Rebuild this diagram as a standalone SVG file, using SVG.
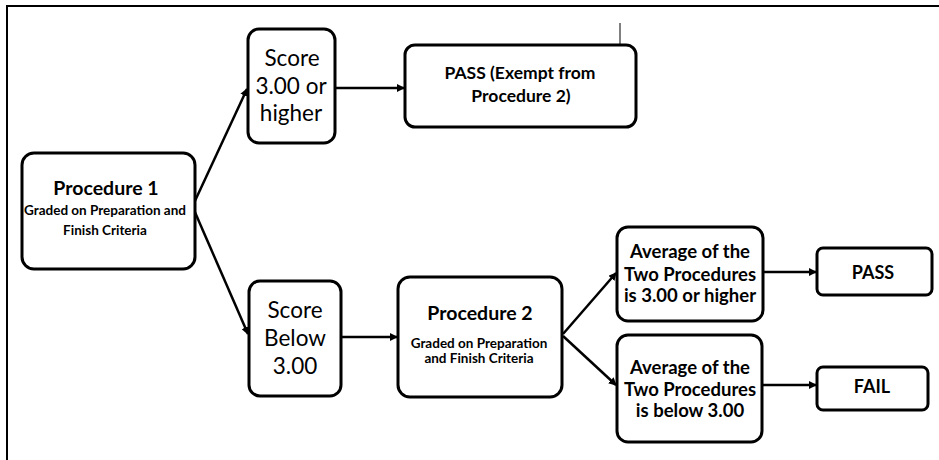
<svg xmlns="http://www.w3.org/2000/svg" width="939" height="460" viewBox="0 0 939 460">
<defs>
<marker id="ah" markerWidth="8" markerHeight="8" refX="7" refY="4" orient="auto" markerUnits="userSpaceOnUse">
<path d="M0,0 L8,4 L0,8 Z" fill="#000"/>
</marker>
<style>
.box{fill:#fff;stroke:#000;stroke-width:3}
.t{font-family:Lato,"Liberation Sans",sans-serif;fill:#000;text-anchor:middle}
.big{font-size:22.5px}
.b{font-weight:bold}
.title{font-size:19.5px;font-weight:bold}
.sub{font-size:13.5px;font-weight:bold}
.avg{font-size:18.5px;font-weight:bold}
.con{stroke:#000;stroke-width:2.5;fill:none;marker-end:url(#ah)}
</style>
</defs>
<rect width="939" height="460" fill="#fff"/>
<g id="frame" stroke="#000" stroke-width="2" fill="none">
<path d="M7,460 V6 H939"/>
<path d="M620,23 V88" stroke-width="1"/>
</g>
<g id="connectors">
<line class="con" x1="194" y1="203" x2="247" y2="89"/>
<line class="con" x1="194" y1="210" x2="248" y2="334"/>
<line class="con" x1="335" y1="88" x2="404" y2="88"/>
<line class="con" x1="341" y1="337" x2="397" y2="337"/>
<line class="con" x1="563" y1="334" x2="616" y2="273"/>
<line class="con" x1="563" y1="336" x2="616" y2="385"/>
<line class="con" x1="763" y1="272" x2="816" y2="272"/>
<line class="con" x1="762" y1="385" x2="816" y2="385"/>
</g>
<g id="proc1">
<rect class="box" x="22" y="153" width="173" height="116" rx="12"/>
<text class="t title" x="106" y="195">Procedure 1</text>
<text class="t sub" x="105" y="215">Graded on Preparation and</text>
<text class="t sub" x="105" y="235">Finish Criteria</text>
</g>
<g id="score-high">
<rect class="box" x="248" y="29" width="87" height="114" rx="11"/>
<text class="t big" x="292" y="66">Score</text>
<text class="t big" x="291" y="94">3.00 or</text>
<text class="t big" x="291" y="121">higher</text>
</g>
<g id="pass-exempt">
<rect class="box" x="405" y="45" width="231" height="82" rx="10"/>
<text class="t b" x="520" y="79" font-size="17.5">PASS (Exempt from</text>
<text class="t b" x="521" y="102" font-size="17.5">Procedure 2)</text>
</g>
<g id="score-below">
<rect class="box" x="249" y="281" width="92" height="115" rx="11"/>
<text class="t big" x="295" y="318">Score</text>
<text class="t big" x="295" y="346">Below</text>
<text class="t big" x="295" y="374">3.00</text>
</g>
<g id="proc2">
<rect class="box" x="398" y="277" width="164" height="120" rx="12"/>
<text class="t title" x="480" y="320">Procedure 2</text>
<text class="t sub" x="479" y="348">Graded on Preparation</text>
<text class="t sub" x="479" y="363">and Finish Criteria</text>
</g>
<g id="avg-high">
<rect class="box" x="617" y="227" width="146" height="94" rx="11"/>
<text class="t avg" x="690" y="258">Average of the</text>
<text class="t avg" x="690" y="281">Two Procedures</text>
<text class="t avg" x="690" y="302">is 3.00 or higher</text>
</g>
<g id="avg-low">
<rect class="box" x="617" y="335" width="145" height="107" rx="11"/>
<text class="t avg" x="690" y="374">Average of the</text>
<text class="t avg" x="690" y="396">Two Procedures</text>
<text class="t avg" x="690" y="417">is below 3.00</text>
</g>
<g id="pass">
<rect class="box" x="817" y="248" width="115" height="47" rx="6"/>
<text class="t b" x="873" y="279" font-size="18">PASS</text>
</g>
<g id="fail">
<rect class="box" x="817" y="367" width="111" height="43" rx="6"/>
<text class="t b" x="872" y="393" font-size="18">FAIL</text>
</g>
</svg>
